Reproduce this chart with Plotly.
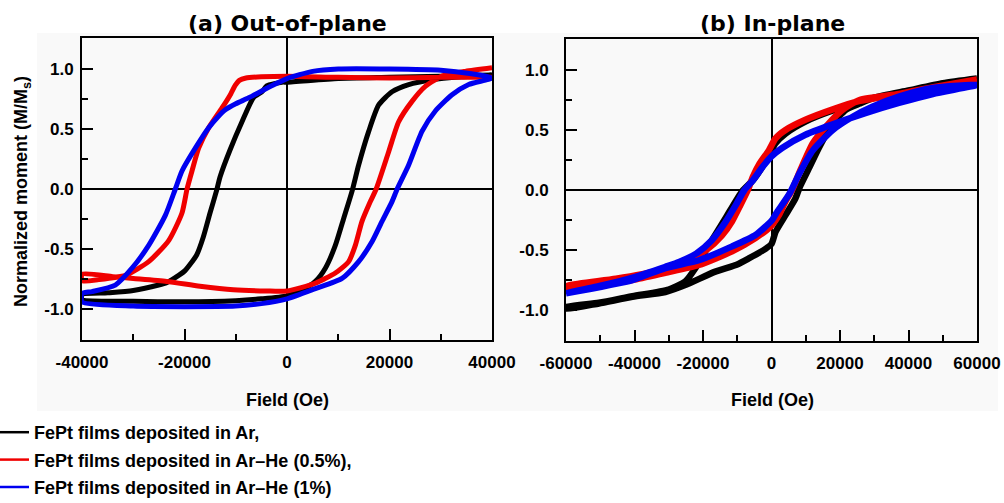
import plotly.graph_objects as go

# ---------------- (a) out-of-plane loops: field (Oe), moment (M/Ms) ----------------
oop_ar_down_h = [40000, 30000, 20000, 10000, 0, -980, -3960, -4880, -6570, -8780, -11120,
                 -13070, -13720, -15020, -16330, -17630, -19900, -21140, -23480, -25040,
                 -30000, -35000, -40000]
oop_ar_down_m = [0.95, 0.94, 0.93, 0.92, 0.89, 0.89, 0.86, 0.81, 0.76, 0.56, 0.325,
                 0.10, -0.01, -0.20, -0.40, -0.55, -0.68, -0.72, -0.78, -0.80,
                 -0.845, -0.865, -0.88]
oop_ar_up_h = [-40000, -30000, -20000, -10000, -5000, 0, 3000, 5530, 7480, 9430, 11060,
               12680, 13980, 15940, 17890, 20490, 23740, 28290, 34000, 40000]
oop_ar_up_m = [-0.92, -0.935, -0.94, -0.93, -0.915, -0.89, -0.84, -0.77, -0.66, -0.47, -0.245,
               -0.02, 0.20, 0.48, 0.70, 0.81, 0.87, 0.91, 0.935, 0.95]

oop_he05_down_h = [40000, 30000, 20000, 10000, 0, -5000, -8000, -9300, -10080, -11000, -12680,
                   -15280, -17240, -18540, -19500, -20490, -23090, -26990, -31550, -36750, -40000]
oop_he05_down_m = [0.93, 0.93, 0.925, 0.93, 0.94, 0.935, 0.925, 0.905, 0.865, 0.79, 0.675,
                   0.51, 0.34, 0.15, 0.0, -0.20, -0.43, -0.605, -0.72, -0.755, -0.765]
oop_he05_up_h = [-40000, -34000, -30000, -23480, -16980, -10470, -4000, 0, 5530, 9430, 12030,
                 13330, 14630, 16260, 17400, 19840, 21790, 24390, 26990, 30240, 34790, 40000]
oop_he05_up_m = [-0.71, -0.73, -0.745, -0.77, -0.81, -0.84, -0.85, -0.85, -0.785, -0.70, -0.605,
                 -0.47, -0.27, -0.105, 0.0, 0.31, 0.56, 0.73, 0.855, 0.94, 0.98, 1.01]

oop_he1_down_h = [40000, 36000, 30000, 20000, 10000, 5000, 0, -3000, -7480, -10000, -12030,
                  -13500, -15280, -17890, -20490, -21790, -23740, -26990, -30240, -33500,
                  -38050, -40000]
oop_he1_down_m = [0.925, 0.96, 0.99, 1.0, 1.0, 0.98, 0.92, 0.86, 0.76, 0.71, 0.66,
                  0.60, 0.51, 0.34, 0.15, 0.0, -0.22, -0.47, -0.66, -0.80,
                  -0.855, -0.87]
oop_he1_up_h = [-40000, -30000, -20000, -10000, -5000, 0, 5530, 10730, 13980, 16580, 18540,
                20490, 21500, 23740, 26340, 28940, 32200, 35450, 40000]
oop_he1_up_m = [-0.94, -0.975, -0.98, -0.975, -0.955, -0.915, -0.83, -0.745, -0.605, -0.44, -0.27,
                -0.105, 0.0, 0.20, 0.48, 0.65, 0.785, 0.87, 0.925]

# ---------------- (b) in-plane loops ----------------
ip_ar_down_h = [60000, 50000, 40000, 30000, 25700, 17700, 9900, 4090, 1170, 0, -2530,
                -5450, -8560, -13430, -18300, -22190, -25100, -30000, -40600, -50400, -60000]
ip_ar_down_m = [0.93, 0.89, 0.83, 0.77, 0.73, 0.66, 0.57, 0.47, 0.39, 0.33, 0.20,
                0.08, -0.01, -0.235, -0.46, -0.65, -0.76, -0.83, -0.885, -0.94, -0.975]
ip_ar_up_h = [-60000, -50400, -40600, -31000, -25000, -16400, -10000, -6630, -1750, 0, 1170,
              4090, 7000, 8180, 11100, 14000, 17900, 21800, 25700, 30000, 40000, 50000, 60000]
ip_ar_up_m = [-0.99, -0.945, -0.89, -0.85, -0.79, -0.68, -0.62, -0.57, -0.49, -0.45, -0.35,
              -0.21, -0.07, 0.02, 0.19, 0.36, 0.555, 0.67, 0.72, 0.77, 0.83, 0.89, 0.93]

ip_he05_down_h = [60000, 46900, 37200, 25500, 17700, 9900, 4090, 1170, -780, -3500, -5450,
                  -6910, -9340, -11500, -14500, -19000, -24900, -32700, -45400, -60000]
ip_he05_down_m = [0.915, 0.85, 0.795, 0.74, 0.67, 0.585, 0.50, 0.43, 0.33, 0.22, 0.11,
                  0.0, -0.14, -0.26, -0.38, -0.50, -0.60, -0.67, -0.74, -0.80]
ip_he05_up_h = [-60000, -40600, -31000, -21200, -11500, -4670, -300, 2340, 4000, 6000, 8500,
                12070, 15960, 20800, 25700, 37200, 46900, 60000]
ip_he05_up_m = [-0.81, -0.75, -0.69, -0.625, -0.51, -0.40, -0.305, -0.20, -0.10, 0.0, 0.17,
                0.39, 0.53, 0.67, 0.75, 0.80, 0.855, 0.92]

ip_he1_down_h = [60000, 47100, 37200, 27400, 17700, 9900, 3100, 0, -2530, -5450, -7900,
                 -10300, -13500, -17500, -22000, -27000, -31000, -40500, -50200, -60000]
ip_he1_down_m = [0.875, 0.80, 0.725, 0.64, 0.545, 0.46, 0.35, 0.28, 0.195, 0.08, 0.0,
                 -0.12, -0.27, -0.42, -0.53, -0.60, -0.64, -0.73, -0.80, -0.86]
ip_he1_up_h = [-60000, -40600, -31000, -21200, -11500, -4670, 200, 1360, 5260, 8180, 12070,
               17900, 23700, 29600, 37400, 47100, 60000]
ip_he1_up_m = [-0.86, -0.75, -0.65, -0.585, -0.47, -0.375, -0.25, -0.195, -0.03, 0.14, 0.33,
               0.50, 0.61, 0.695, 0.78, 0.85, 0.875]

series_names = ["FePt films deposited in Ar,",
                "FePt films deposited in Ar\u2013He (0.5%),",
                "FePt films deposited in Ar\u2013He (1%)"]
series_colors = ["#000000", "#f00000", "#0000f0"]

oop_x_ticks = [-40000, -20000, 0, 20000, 40000]
oop_x_ticktext = ["-40000", "-20000", "0", "20000", "40000"]
oop_x_minor = [-30000, -10000, 10000, 30000]
ip_x_ticks = [-60000, -40000, -20000, 0, 20000, 40000, 60000]
ip_x_ticktext = ["-60000", "-40000", "-20000", "0", "20000", "40000", "60000"]
ip_x_minor = [-50000, -30000, -10000, 10000, 30000, 50000]
y_ticks = [-1.0, -0.5, 0.0, 0.5, 1.0]
y_ticktext = ["-1.0", "-0.5", "0.0", "0.5", "1.0"]
y_minor = [-0.75, -0.25, 0.25, 0.75]

FONT = "Liberation Sans, Arial, Helvetica, sans-serif"
TITLE_FONT = "DejaVu Sans, Liberation Sans, Arial, sans-serif"
W, H = 1004, 503


def px(x):
    return x / W


def py(y):
    return 1 - y / H


fig = go.Figure()

oop_loops = [(oop_ar_down_h, oop_ar_down_m, oop_ar_up_h, oop_ar_up_m),
             (oop_he05_down_h, oop_he05_down_m, oop_he05_up_h, oop_he05_up_m),
             (oop_he1_down_h, oop_he1_down_m, oop_he1_up_h, oop_he1_up_m)]
ip_loops = [(ip_ar_down_h, ip_ar_down_m, ip_ar_up_h, ip_ar_up_m),
            (ip_he05_down_h, ip_he05_down_m, ip_he05_up_h, ip_he05_up_m),
            (ip_he1_down_h, ip_he1_down_m, ip_he1_up_h, ip_he1_up_m)]

for (dh, dm, uh, um), name, col in zip(oop_loops, series_names, series_colors):
    fig.add_trace(go.Scatter(x=dh + uh, y=dm + um, mode="lines", name=name, showlegend=False,
                             line=dict(color=col, width=5, shape="spline", smoothing=0.6),
                             xaxis="x", yaxis="y", hoverinfo="skip"))

for (dh, dm, uh, um), name, col in zip(ip_loops, series_names, series_colors):
    fig.add_trace(go.Scatter(x=dh + uh, y=dm + um, mode="lines", name=name, showlegend=False,
                             line=dict(color=col, width=6.5, shape="spline", smoothing=0.6),
                             xaxis="x2", yaxis="y2", hoverinfo="skip"))

# thin legend keys
for i, (name, col) in enumerate(zip(series_names, series_colors)):
    fig.add_trace(go.Scatter(x=[None], y=[None], mode="lines", name=name,
                             line=dict(color=col, width=2.5), legendgroup=f"g{i}",
                             xaxis="x", yaxis="y"))

axis_common = dict(showline=True, mirror=True, linecolor="black", linewidth=2,
                   showgrid=False, zeroline=True, zerolinecolor="black", zerolinewidth=1.5,
                   ticks="inside", ticklen=11, tickwidth=2, tickcolor="black", automargin=False,
                   tickfont=dict(family=FONT, size=17, color="black", weight="bold"))

fig.update_layout(
    width=W, height=H,
    margin=dict(l=0, r=0, t=0, b=0, autoexpand=False),
    paper_bgcolor="white", plot_bgcolor="white",
    xaxis=dict(domain=[px(82), px(492)], range=[-40000, 40000], anchor="y",
               tickmode="array", tickvals=oop_x_ticks, ticktext=oop_x_ticktext,
               minor=dict(tickmode="array", tickvals=oop_x_minor, ticks="inside",
                          ticklen=6, tickwidth=2, tickcolor="black"),
               ticklabelstandoff=6, **axis_common),
    yaxis=dict(domain=[py(340), py(38)], range=[-1.258, 1.258], anchor="x",
               tickmode="array", tickvals=y_ticks, ticktext=y_ticktext,
               minor=dict(tickmode="array", tickvals=y_minor, ticks="inside",
                          ticklen=6, tickwidth=2, tickcolor="black"),
               ticklabelstandoff=3, **axis_common),
    xaxis2=dict(domain=[px(566), px(977)], range=[-60000, 60000], anchor="y2",
                tickmode="array", tickvals=ip_x_ticks, ticktext=ip_x_ticktext,
                minor=dict(tickmode="array", tickvals=ip_x_minor, ticks="inside",
                           ticklen=6, tickwidth=2, tickcolor="black"),
                ticklabelstandoff=6, **axis_common),
    yaxis2=dict(domain=[py(341), py(39)], range=[-1.258, 1.258], anchor="x2",
                tickmode="array", tickvals=y_ticks, ticktext=y_ticktext,
                minor=dict(tickmode="array", tickvals=y_minor, ticks="inside",
                           ticklen=6, tickwidth=2, tickcolor="black"),
                ticklabelstandoff=12, **axis_common),
    legend=dict(x=px(-6), y=py(414), xanchor="left", yanchor="top",
                bgcolor="rgba(0,0,0,0)", borderwidth=0, itemwidth=30,
                tracegroupgap=1, traceorder="grouped",
                font=dict(family=FONT, size=18, color="black", weight="bold")),
    showlegend=True,
)

# light backdrop behind the figure panel
fig.add_shape(type="rect", xref="paper", yref="paper",
              x0=px(37), x1=px(998), y0=py(411), y1=py(33),
              line=dict(width=0), fillcolor="#f9f9f9", layer="below")

title_font = dict(family=TITLE_FONT, size=22, color="black", weight="bold")
label_font = dict(family=FONT, size=18, color="black", weight="bold")

fig.add_annotation(text="(a) Out-of-plane", x=px(287), y=py(23), xref="paper", yref="paper",
                   showarrow=False, xanchor="center", yanchor="middle", font=title_font)
fig.add_annotation(text="(b) In-plane", x=px(772), y=py(23), xref="paper", yref="paper",
                   showarrow=False, xanchor="center", yanchor="middle", font=title_font)
fig.add_annotation(text="Field (Oe)", x=px(287), y=py(400), xref="paper", yref="paper",
                   showarrow=False, xanchor="center", yanchor="middle", font=label_font)
fig.add_annotation(text="Field (Oe)", x=px(772), y=py(400), xref="paper", yref="paper",
                   showarrow=False, xanchor="center", yanchor="middle", font=label_font)
fig.add_annotation(text="Normalized moment (M/M<sub>s</sub>)", x=px(22), y=py(192),
                   xref="paper", yref="paper", textangle=-90, showarrow=False,
                   xanchor="center", yanchor="middle",
                   font=dict(family=FONT, size=18, color="black", weight="bold"))

fig.write_html("out.html")
